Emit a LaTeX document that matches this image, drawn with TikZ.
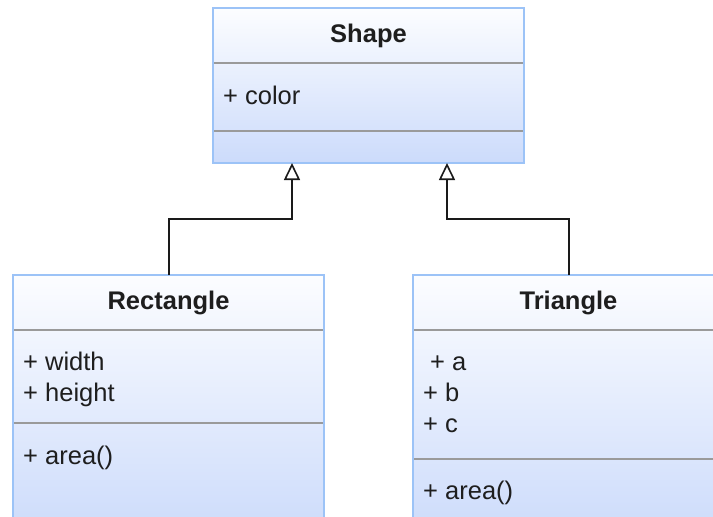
\documentclass[tikz,border=0pt]{standalone}
\usepackage{fontspec}
\setmainfont{Liberation Sans}
\usetikzlibrary{arrows.meta,calc}
\definecolor{umlborder}{HTML}{9CC3F7}
\definecolor{umltop}{HTML}{FCFDFF}
\definecolor{umlbottom}{HTML}{CCDBFB}
\definecolor{umldiv}{HTML}{9A9A9A}
\definecolor{umltext}{HTML}{1E1E1E}
\definecolor{umlline}{HTML}{1A1A1A}
\begin{document}
\begin{tikzpicture}[x=1pt,y=-1pt,
  classbox/.style={draw=umlborder, line width=1.5pt, rectangle, anchor=north west,
    inner sep=0pt, outer sep=0pt, minimum width=311pt,
    top color=umltop, bottom color=umlbottom},
  divider/.style={draw=umldiv, line width=1.6pt},
  classname/.style={font=\fontsize{25.5}{31}\selectfont\bfseries, text=umltext,
    anchor=base, inner sep=0pt},
  member/.style={font=\fontsize{25.5}{31}\selectfont, text=umltext,
    anchor=base west, inner sep=0pt},
  inherit/.style={draw=umlline, line width=2pt,
    -{Triangle[open,length=17pt,width=16pt,line width=1.6pt]}}
]
\useasboundingbox (0,0) rectangle (713,517);
\clip (0,0) rectangle (713,517);

% class boxes
\node[classbox, minimum height=155pt] (shape) at (213,8) {};
\node[classbox, minimum height=262pt] (rect) at (13,275) {};
\node[classbox, minimum height=262pt] (tri) at (413,275) {};

% compartment dividers
\draw[divider] ($(shape.north west)+(1,55)$) -- ($(shape.north east)+(-1,55)$);
\draw[divider] ($(shape.north west)+(1,123)$) -- ($(shape.north east)+(-1,123)$);
\draw[divider] ($(rect.north west)+(1,55)$) -- ($(rect.north east)+(-1,55)$);
\draw[divider] ($(rect.north west)+(1,148)$) -- ($(rect.north east)+(-1,148)$);
\draw[divider] ($(tri.north west)+(1,55)$) -- ($(tri.north east)+(-1,55)$);
\draw[divider] ($(tri.north west)+(1,184)$) -- ($(tri.north east)+(-1,184)$);

% Shape
\node[classname] (shapeName) at ($(shape.north)+(0,34)$) {Shape};
\node[member] (shapeColor) at ($(shape.north west)+(10,96)$) {+ color};

% Rectangle
\node[classname] (rectName) at ($(rect.north)+(0,34)$) {Rectangle};
\node[member] (rectWidth) at ($(rect.north west)+(10,95)$) {+ width};
\node[member] (rectHeight) at ($(rect.north west)+(10,126)$) {+ height};
\node[member] (rectArea) at ($(rect.north west)+(10,189)$) {+ area()};

% Triangle
\node[classname] (triName) at ($(tri.north)+(0,34)$) {Triangle};
\node[member] (triA) at ($(tri.north west)+(17,95)$) {+ a};
\node[member] (triB) at ($(tri.north west)+(10,126)$) {+ b};
\node[member] (triC) at ($(tri.north west)+(10,157)$) {+ c};
\node[member] (triArea) at ($(tri.north west)+(10,224)$) {+ area()};

% generalisation connectors
\draw[inherit] (rect.north) -- ++(0,-56) -| ($(shape.south)+(-76.5,0)$);
\draw[inherit] (tri.north) -- ++(0,-56) -| ($(shape.south)+(78.5,0)$);
\end{tikzpicture}
\end{document}
